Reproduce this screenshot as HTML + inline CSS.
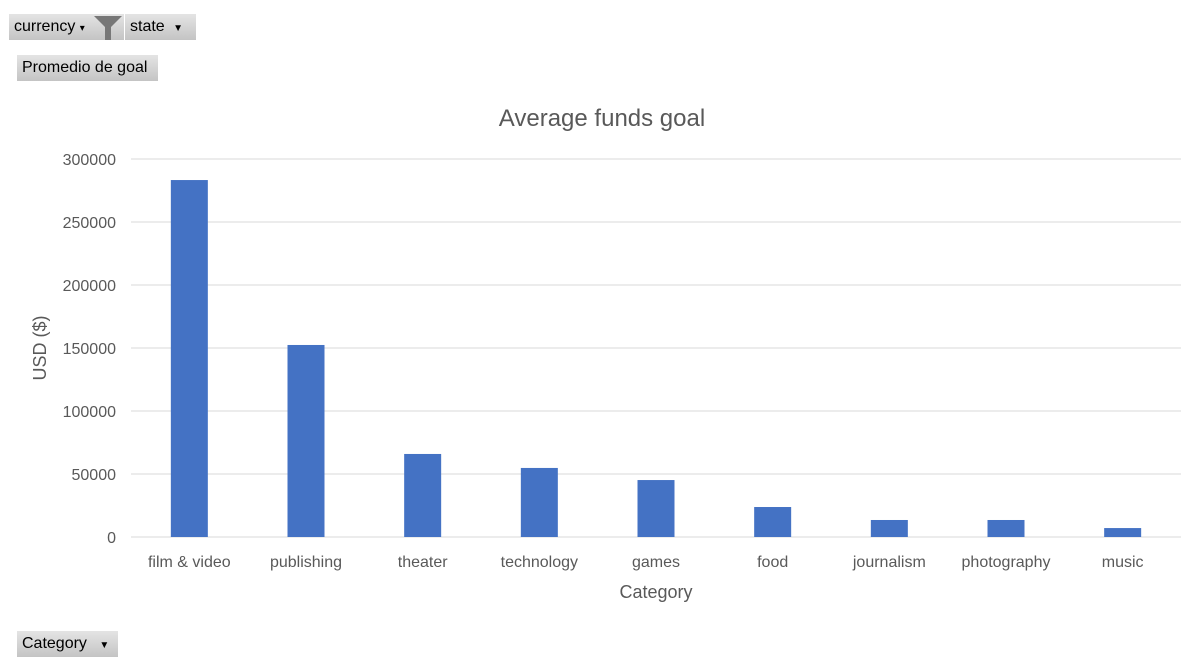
<!DOCTYPE html>
<html><head><meta charset="utf-8"><style>
body{margin:0;width:1204px;height:671px;background:#fff;font-family:"Liberation Sans",sans-serif;position:relative;overflow:hidden}
.btn{position:absolute;background:linear-gradient(#e4e4e4,#c4c4c4);font-size:16px;color:#000;height:26px;line-height:26px;padding:0 5px;box-sizing:border-box}
svg text{font-family:"Liberation Sans",sans-serif}
</style></head><body>
<div class="btn" style="left:9px;top:14px;width:115px">currency <span style="font-size:10px">▾</span><svg style="position:absolute;left:83px;top:0" width="32" height="26"><path d="M2 2 H30 L19 13 V26 H13 V13 Z" fill="#777"/></svg></div>
<div class="btn" style="left:125px;top:14px;width:71px">state <span style="font-size:10px;margin-left:4px">▼</span></div>
<div class="btn" style="left:17px;top:55px;width:141px">Promedio de goal</div>
<div class="btn" style="left:17px;top:631px;width:101px">Category <span style="font-size:10px;margin-left:8px">▼</span></div>
<svg id="chart" width="1204" height="671" style="position:absolute;left:0;top:0"></svg>
<script>
const categories=["film & video","publishing","theater","technology","games","food","journalism","photography","music"];
const values=[283300,152400,65900,54800,45200,23800,13500,13500,7100];
const ticks=[0,50000,100000,150000,200000,250000,300000];
const svg=document.getElementById('chart');
const NS='http://www.w3.org/2000/svg';
const x0=131,x1=1181,y0=537,y1=159,maxV=300000;
const y=v=>y0-(v/maxV)*(y0-y1);
const bw=(x1-x0)/categories.length;
const xc=i=>x0+bw*(i+0.5);
function mk(t,a,txt){const e=document.createElementNS(NS,t);for(const k in a)e.setAttribute(k,a[k]);if(txt!=null)e.textContent=txt;svg.appendChild(e);return e;}
let t=mk('text',{x:602,y:126,'text-anchor':'middle','font-size':24,fill:'#595959'},'Average funds goal');


ticks.forEach(v=>{
 const l=mk('line',{x1:x0,x2:x1,y1:y(v),y2:y(v),stroke:'#d9d9d9','stroke-width':1});
 
 
 const tx=mk('text',{x:116,y:y(v)+6,'text-anchor':'end','font-size':16,fill:'#595959'},String(v));
 
 
});
categories.forEach((c,i)=>{
 const r=mk('rect',{x:xc(i)-18.5,y:y(values[i]),width:37,height:y0-y(values[i]),fill:'#4472c4'});
 
 
 const tx=mk('text',{x:xc(i),y:567,'text-anchor':'middle','font-size':16,fill:'#595959'},c);
 
 
});
let xt=mk('text',{x:656,y:598,'text-anchor':'middle','font-size':18,fill:'#595959'},'Category');


let yt=mk('text',{x:0,y:0,'text-anchor':'middle','font-size':18,fill:'#595959',transform:'translate(46,348) rotate(-90)'},'USD ($)');


</script>
</body></html>
